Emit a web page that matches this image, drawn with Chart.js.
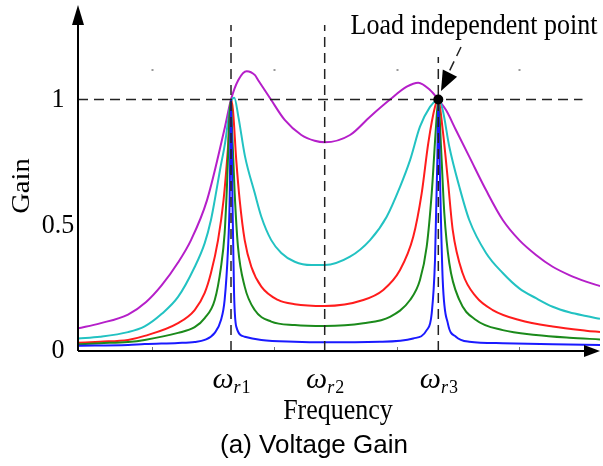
<!DOCTYPE html>
<html>
<head>
<meta charset="utf-8">
<script src="https://cdn.jsdelivr.net/npm/chart.js@4.4.1/dist/chart.umd.min.js"></script>
<style>
  body { margin: 0; background: #fff; }
  canvas { display: block; }
</style>
</head>
<body>
<canvas id="gainChart" width="603" height="466"></canvas>
<script>
// normalized frequency axis (small ticks sit at 1, 2, 3, 4)
const freqMin = 0.395;
const freqMax = 4.663;
const gainMax = 1.376;

const gainTicks = [0, 0.5, 1];
const gainTickLabels = ["0", "0.5", "1"];
const minorTicks = [1, 2, 3, 4];
const resonanceFreqs = [1.646, 2.412, 3.341];
const resonanceSubs = ["r1", "r2", "r3"];

// curves, lightest load (sharpest) first
const blueFreq = [0.395, 0.804, 0.940, 1.213, 1.349, 1.431, 1.513, 1.564, 1.594, 1.621, 1.635, 1.646, 1.658, 1.671, 1.689, 1.758, 1.894, 2.167, 2.412, 2.864, 3.136, 3.246, 3.287, 3.314, 3.333, 3.341, 3.355, 3.377, 3.419, 3.485, 3.594, 3.868, 4.276, 4.663];
const blueGain = [0.021, 0.024, 0.028, 0.032, 0.036, 0.044, 0.072, 0.123, 0.203, 0.402, 0.600, 1.000, 0.600, 0.231, 0.097, 0.057, 0.044, 0.037, 0.035, 0.037, 0.050, 0.083, 0.150, 0.362, 0.759, 1.000, 0.680, 0.282, 0.110, 0.057, 0.037, 0.031, 0.027, 0.024];

const greenFreq = [0.395, 0.575, 0.804, 0.940, 1.213, 1.349, 1.431, 1.513, 1.564, 1.594, 1.608, 1.646, 1.654, 1.676, 1.703, 1.758, 1.840, 1.975, 2.167, 2.412, 2.728, 2.946, 3.110, 3.191, 3.246, 3.287, 3.322, 3.341, 3.363, 3.390, 3.431, 3.513, 3.649, 3.868, 4.140, 4.412, 4.663];
const greenGain = [0.027, 0.031, 0.036, 0.044, 0.072, 0.095, 0.131, 0.203, 0.334, 0.469, 0.600, 1.000, 0.892, 0.628, 0.415, 0.256, 0.163, 0.117, 0.103, 0.099, 0.110, 0.136, 0.203, 0.282, 0.415, 0.627, 0.892, 1.000, 0.812, 0.549, 0.349, 0.203, 0.123, 0.083, 0.064, 0.053, 0.046];

const redFreq = [0.395, 0.575, 0.804, 0.940, 1.213, 1.349, 1.431, 1.482, 1.540, 1.585, 1.620, 1.646, 1.662, 1.689, 1.717, 1.758, 1.812, 1.894, 2.030, 2.167, 2.412, 2.728, 2.891, 3.028, 3.136, 3.205, 3.259, 3.314, 3.341, 3.377, 3.419, 3.459, 3.540, 3.649, 3.786, 4.003, 4.276, 4.549, 4.663];
const redGain = [0.033, 0.037, 0.044, 0.060, 0.111, 0.163, 0.231, 0.310, 0.441, 0.600, 0.800, 1.000, 0.958, 0.759, 0.600, 0.441, 0.335, 0.256, 0.203, 0.186, 0.179, 0.203, 0.243, 0.322, 0.454, 0.627, 0.827, 0.971, 1.000, 0.879, 0.680, 0.481, 0.309, 0.216, 0.163, 0.123, 0.097, 0.081, 0.076];

const cyanFreq = [0.395, 0.575, 0.804, 0.940, 1.080, 1.213, 1.349, 1.431, 1.482, 1.513, 1.556, 1.597, 1.646, 1.673, 1.706, 1.760, 1.840, 1.894, 1.975, 2.057, 2.167, 2.303, 2.412, 2.619, 2.783, 2.919, 3.028, 3.110, 3.191, 3.273, 3.328, 3.341, 3.377, 3.431, 3.513, 3.594, 3.731, 3.868, 4.003, 4.140, 4.276, 4.412, 4.549, 4.663];
const cyanGain = [0.050, 0.057, 0.075, 0.098, 0.148, 0.215, 0.334, 0.429, 0.521, 0.600, 0.720, 0.826, 0.990, 1.007, 0.932, 0.775, 0.628, 0.534, 0.441, 0.390, 0.355, 0.342, 0.342, 0.375, 0.441, 0.534, 0.653, 0.759, 0.892, 0.971, 0.998, 1.000, 0.958, 0.812, 0.653, 0.521, 0.390, 0.310, 0.249, 0.210, 0.176, 0.154, 0.139, 0.128];

const purpleFreq = [0.395, 0.575, 0.804, 0.952, 1.080, 1.213, 1.319, 1.450, 1.597, 1.646, 1.706, 1.774, 1.842, 1.867, 1.975, 2.085, 2.221, 2.330, 2.412, 2.619, 2.783, 2.946, 3.083, 3.177, 3.273, 3.341, 3.404, 3.485, 3.594, 3.731, 3.868, 4.003, 4.140, 4.276, 4.412, 4.549, 4.663];
const purpleGain = [0.090, 0.110, 0.145, 0.195, 0.262, 0.352, 0.441, 0.600, 0.892, 1.000, 1.078, 1.113, 1.097, 1.078, 0.998, 0.919, 0.859, 0.836, 0.830, 0.859, 0.932, 1.000, 1.051, 1.067, 1.038, 1.000, 0.958, 0.879, 0.773, 0.640, 0.521, 0.441, 0.382, 0.335, 0.302, 0.276, 0.258];

const serif = "'Liberation Serif', 'Times New Roman', serif";

function toPoints(freqs, gains) {
  return freqs.map((f, i) => ({ x: f, y: gains[i] }));
}

function curve(freqs, gains, color) {
  return {
    data: toPoints(freqs, gains),
    borderColor: color,
    borderWidth: 2,
    pointRadius: 0,
    fill: false,
    cubicInterpolationMode: "monotone",
  };
}

function arrowHead(ctx, tipX, tipY, dx, dy, len, half) {
  const n = Math.hypot(dx, dy);
  const ux = dx / n, uy = dy / n;
  const bx = tipX - ux * len, by = tipY - uy * len;
  ctx.beginPath();
  ctx.moveTo(tipX, tipY);
  ctx.lineTo(bx - uy * half, by + ux * half);
  ctx.lineTo(bx + uy * half, by - ux * half);
  ctx.closePath();
  ctx.fill();
}

// text stretched a little vertically, like the original figure
function tallText(ctx, text, x, y, font, sy) {
  ctx.save();
  ctx.translate(x, y);
  ctx.scale(1, sy);
  ctx.font = font;
  ctx.fillText(text, 0, 0);
  ctx.restore();
}

const overlay = {
  id: "overlay",
  afterDatasetsDraw(chart) {
    const { ctx } = chart;
    const x = chart.scales.x, y = chart.scales.y;
    const x0 = x.getPixelForValue(freqMin);
    const xEnd = x.getPixelForValue(freqMax);
    const y0 = y.getPixelForValue(0);
    const yTop = y.getPixelForValue(gainMax);
    const y1 = y.getPixelForValue(1);

    ctx.save();
    // dashed guide lines
    ctx.strokeStyle = "#222";
    ctx.lineWidth = 1.5;
    ctx.setLineDash([10, 6]);
    ctx.beginPath();
    ctx.moveTo(x0, y1);
    ctx.lineTo(x.getPixelForValue(4.52), y1);
    const tops = [1.296, 1.296, 1.169];
    resonanceFreqs.forEach((f, i) => {
      const px = x.getPixelForValue(f);
      ctx.moveTo(px, y0);
      ctx.lineTo(px, y.getPixelForValue(tops[i]));
    });
    ctx.stroke();

    // annotation arrow
    ctx.beginPath();
    ctx.moveTo(461, 47);
    ctx.lineTo(449, 72);
    ctx.stroke();
    ctx.setLineDash([]);
    ctx.fillStyle = "#000";
    arrowHead(ctx, 441, 91, -0.45, 0.9, 20, 8);

    // load independent point
    ctx.beginPath();
    ctx.arc(x.getPixelForValue(resonanceFreqs[2]), y1, 5, 0, Math.PI * 2);
    ctx.fill();

    // small ticks
    ctx.strokeStyle = "#777";
    ctx.lineWidth = 1;
    minorTicks.forEach((f) => {
      const px = Math.round(x.getPixelForValue(f)) + 0.5;
      ctx.beginPath();
      ctx.moveTo(px, y0);
      ctx.lineTo(px, y0 - 4);
      ctx.stroke();
      ctx.fillStyle = "#999";
      ctx.fillRect(px - 1, y.getPixelForValue(1.1175) - 1, 2, 2);
    });

    // axes
    ctx.strokeStyle = "#000";
    ctx.fillStyle = "#000";
    ctx.lineWidth = 2;
    ctx.beginPath();
    ctx.moveTo(x0, y0);
    ctx.lineTo(x0, yTop + 15);
    ctx.moveTo(x0, y0);
    ctx.lineTo(xEnd - 12, y0);
    ctx.stroke();
    arrowHead(ctx, x0, yTop, 0, -1, 20, 6);
    arrowHead(ctx, xEnd, y0, 1, 0, 16, 6);

    // tick labels
    ctx.textAlign = "center";
    ctx.textBaseline = "middle";
    gainTicks.forEach((g, i) => {
      tallText(ctx, gainTickLabels[i], 58, y.getPixelForValue(g), "26px " + serif, 1.08);
    });

    // resonance labels
    ctx.textBaseline = "alphabetic";
    ctx.textAlign = "left";
    resonanceFreqs.forEach((f, i) => {
      const px = x.getPixelForValue(f);
      ctx.font = "italic 30px " + serif;
      const wOmega = ctx.measureText("\u03C9").width;
      ctx.font = "italic 18px " + serif;
      const wR = ctx.measureText("r").width;
      ctx.font = "18px " + serif;
      const wN = ctx.measureText(resonanceSubs[i].slice(1)).width;
      let sx = px - (wOmega + wR + wN) / 2;
      ctx.font = "italic 30px " + serif;
      ctx.fillText("\u03C9", sx, 388);
      sx += wOmega;
      ctx.font = "italic 18px " + serif;
      ctx.fillText("r", sx, 393);
      sx += wR + 1;
      ctx.font = "18px " + serif;
      ctx.fillText(resonanceSubs[i].slice(1), sx, 393);
    });

    // titles
    ctx.textAlign = "center";
    ctx.textBaseline = "middle";
    tallText(ctx, "Frequency", 338, 411, "26px " + serif, 1.15);
    tallText(ctx, "Load independent point", 474, 26, "26px " + serif, 1.15);
    ctx.font = "26px 'Liberation Sans', Arial, sans-serif";
    ctx.fillText("(a) Voltage Gain", 314, 446);

    ctx.save();
    ctx.translate(22, 186);
    ctx.rotate(-Math.PI / 2);
    ctx.scale(1.1, 1);
    ctx.font = "26px " + serif;
    ctx.fillText("Gain", 0, 0);
    ctx.restore();

    ctx.restore();
  },
};

const ctx = document.getElementById("gainChart").getContext("2d");
new Chart(ctx, {
  type: "line",
  data: {
    datasets: [
      curve(blueFreq, blueGain, "#1a1aff"),
      curve(greenFreq, greenGain, "#1b8a1b"),
      curve(redFreq, redGain, "#ff1c1c"),
      curve(cyanFreq, cyanGain, "#22c2c2"),
      curve(purpleFreq, purpleGain, "#b51fc9"),
    ],
  },
  options: {
    responsive: false,
    animation: false,
    devicePixelRatio: 1,
    layout: { padding: { left: 78, right: 3, top: 5, bottom: 115 } },
    plugins: { legend: { display: false }, tooltip: { enabled: false } },
    scales: {
      x: { type: "linear", min: freqMin, max: freqMax, display: false },
      y: { min: 0, max: gainMax, display: false },
    },
  },
  plugins: [overlay],
});
</script>
</body>
</html>
